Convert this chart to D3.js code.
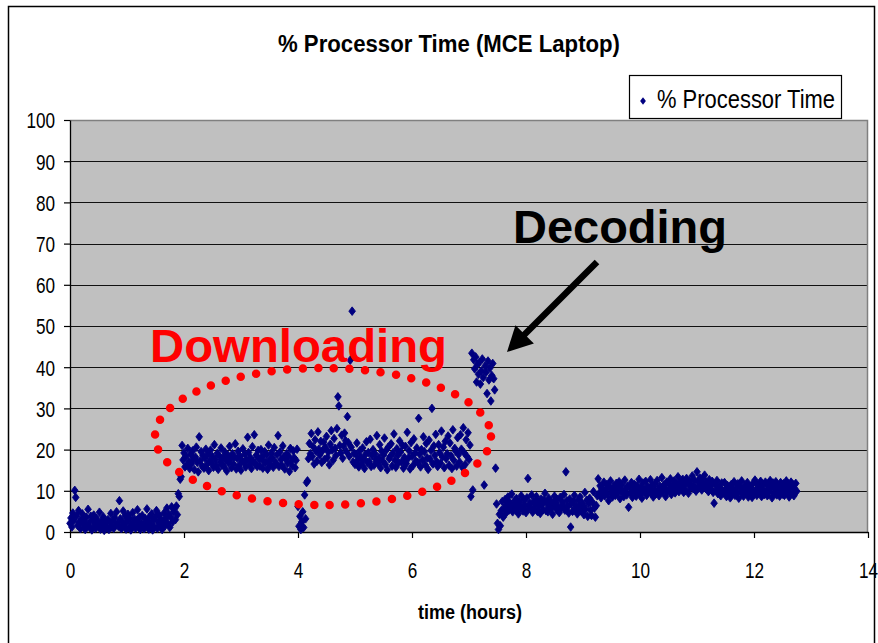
<!DOCTYPE html>
<html>
<head>
<meta charset="utf-8">
<script src="https://cdn.jsdelivr.net/npm/d3@7"></script>
<style>
  html, body { margin: 0; padding: 0; background: #fff; }
  svg { display: block; font-family: "Liberation Sans", Arial, sans-serif; }
</style>
</head>
<body>
<svg id="chart" width="878" height="643"></svg>
<script>
// Perfmon log, one sample per minute, split by activity phase (values in %)
const sampleMinutes = 1;

const idleLoad = [
  2.1, 3.4, 1.2, 4.6, 2.8, 10.1, 8.4, 3.9, 1.6, 5.2, 2.4, 0.8, 3.1, 4.4, 1.9, 2.7, 0.6, 3.6, 1.4, 5.5,
  2.2, 1.1, 3.8, 0.5, 2.9, 4.1, 1.7, 0.9, 3.3, 2.0, 1.3, 4.8, 0.7, 2.6, 1.5, 3.7, 0.4, 1.8, 2.5, 1.0,
  3.0, 0.6, 2.3, 4.5, 1.2, 2.8, 0.9, 3.5, 1.6, 4.9, 2.1, 1.4, 7.6, 3.2, 0.8, 2.4, 5.1, 1.7, 3.9, 0.7,
  2.6, 4.3, 1.1, 3.4, 0.5, 2.0, 4.7, 1.5, 3.1, 0.9, 2.7, 5.4, 1.3, 3.6, 0.6, 2.2, 4.0, 1.8, 0.8, 3.3,
  1.4, 5.6, 2.5, 0.7, 3.8, 1.9, 4.4, 0.5, 2.9, 1.2, 3.5, 5.2, 0.9, 2.3, 4.1, 1.6, 3.0, 0.6, 2.7, 4.6,
  1.5, 3.2, 5.8, 2.0, 4.3, 1.1, 3.6, 6.1, 2.4, 4.9, 5.7, 3.0, 6.3, 4.2, 9.3, 8.6, 12.8
];

const downloadFirst = [
  13.4, 21.0, 17.5, 19.2, 15.8, 18.4, 16.2, 20.3, 17.1, 15.4, 18.9, 16.6, 19.7, 17.8, 15.1, 18.2, 20.6, 16.9, 14.6, 23.1,
  17.3, 19.5, 16.0, 18.6, 15.5, 17.9, 20.1, 16.4, 18.8, 14.9, 17.2, 19.9, 16.7, 18.3, 15.7, 21.2, 17.6, 16.1, 19.1, 15.2,
  18.5, 17.0, 20.4, 16.3, 18.1, 15.9, 19.4, 17.4, 14.8, 18.7, 16.8, 20.8, 17.7, 15.6, 19.0, 16.5, 18.2, 21.4, 15.3, 17.9,
  19.6, 16.2, 18.4, 15.0, 17.3, 20.2, 16.9, 18.9, 15.8, 17.5, 23.0, 19.3, 16.4, 18.0, 15.4, 20.7, 17.1, 23.6, 16.6, 18.6,
  15.9, 19.8, 17.7, 16.0, 20.0, 18.3, 15.5, 17.2, 19.5, 16.8, 18.7, 15.2, 21.1, 17.4, 16.3, 19.2, 18.1, 15.7, 20.5, 17.0,
  16.5, 18.8, 23.4, 15.9, 19.4, 17.6, 16.2, 20.9, 18.2, 15.3, 17.8, 19.0, 16.7, 18.5, 14.7, 20.3, 17.3, 16.1, 19.7, 18.0,
  15.6, 17.4, 20.1
];

const pauseLoad = [6.2, 1.4, 3.8, 0.6, 2.5, 4.9, 1.1, 9.0, 3.2, 12.0];

const downloadSecond = [
  12.4, 17.8, 21.5, 19.0, 23.9, 18.3, 20.7, 16.5, 22.4, 19.6, 17.2, 24.3, 20.1, 18.7, 22.0, 16.9, 19.8, 21.8, 17.6, 20.5,
  23.2, 18.1, 19.4, 16.3, 21.3, 24.6, 19.9, 17.4, 22.7, 20.3, 18.6, 25.1, 32.8, 30.6, 21.0, 19.2, 23.5, 17.9, 20.8, 24.0,
  22.2, 19.5, 28.0, 21.7, 18.4, 41.7, 20.6, 53.6, 17.0, 19.1, 16.4, 18.9, 21.6, 17.5, 15.8, 19.7, 18.2, 16.6, 20.4, 17.7,
  15.4, 18.8, 21.9, 16.9, 19.3, 17.1, 22.5, 15.9, 18.5, 20.0, 16.2, 19.0, 17.6, 23.4, 16.7, 18.0, 21.2, 15.6, 19.6, 17.3,
  18.7, 22.8, 16.4, 19.9, 15.1, 20.6, 17.8, 18.3, 21.4, 16.0, 19.2, 23.8, 17.4, 15.7, 20.2, 18.6, 16.8, 22.1, 19.4, 17.0,
  21.0, 15.5, 18.1, 20.8, 16.6, 24.2, 17.9, 19.7, 15.3, 21.7, 18.4, 16.1, 22.6, 19.1, 17.2, 20.4, 16.9, 27.6, 18.9, 15.8,
  20.0, 17.5, 23.1, 19.5, 16.3, 21.5, 18.0, 15.2, 22.3, 17.7, 19.8, 30.0, 16.5, 20.9, 18.6, 23.7, 17.1, 15.9, 21.2, 19.3,
  16.7, 24.5, 18.2, 20.6, 15.6, 22.0, 17.8, 19.0, 23.3, 16.2, 21.6, 18.5, 15.4, 24.8, 17.4, 20.3, 19.6, 16.0, 22.9, 18.8,
  17.0, 23.6, 20.1, 15.7, 25.3, 19.2, 16.4, 22.4, 18.3, 24.1, 17.6, 21.1
];

const decodeLoad = [
  8.6, 43.4, 10.2, 41.8, 39.6, 42.5, 36.4, 40.7, 38.3, 41.2, 35.9, 39.1, 42.0, 37.5, 11.4, 40.3, 38.8, 33.6, 41.5, 36.9,
  39.8, 31.8, 38.0, 40.9, 37.2, 34.5, 15.5
];

const settleLoad = [6.8, 2.1, 0.6, 4.3, 1.5, 5.2, 7.4, 3.6];

const postDecodeLoad = [
  5.8, 7.9, 4.6, 6.7, 8.5, 5.3, 7.1, 6.0, 9.2, 4.9, 6.4, 7.6, 5.5, 8.1, 6.9, 4.4, 7.3, 5.9, 8.8, 6.2,
  5.1, 7.8, 6.5, 4.7, 8.3, 13.0, 5.7, 7.0, 6.1, 9.0, 4.8, 7.4, 5.6, 6.8, 8.6, 5.0, 7.2, 6.3, 4.5, 8.0,
  6.6, 5.4, 7.7, 9.4, 5.2, 6.9, 4.9, 8.2, 6.0, 7.5, 5.8, 4.3, 7.1, 8.7, 6.4, 5.5, 7.9, 6.2, 4.7, 8.4,
  5.9, 7.3, 6.6, 9.1, 5.3, 14.6, 7.6, 6.1, 4.6, 8.0, 1.2, 6.8, 5.0, 7.4, 8.9, 5.7, 6.3, 4.4, 7.8, 6.0,
  8.5, 5.1, 7.0, 6.5, 4.2, 9.6, 5.6, 7.7, 3.8, 6.9, 8.2, 5.3, 4.0, 7.2, 9.8, 5.8, 3.6, 6.4, 8.8
];

const lateLoad = [
  12.9, 9.4, 11.2, 8.3, 10.6, 9.9, 12.1, 8.8, 10.3, 11.5, 9.1, 7.6, 10.8, 12.4, 9.6, 8.5, 11.0, 10.1, 8.9, 11.8,
  9.3, 10.7, 12.2, 8.1, 10.0, 11.4, 9.7, 8.6, 12.6, 10.4, 9.0, 11.1, 6.0, 10.9, 9.5, 12.0, 8.4, 10.2, 11.6, 9.8,
  8.7, 11.3, 10.5, 12.8, 9.2, 10.8, 8.2, 11.9, 9.9, 10.3, 12.3, 8.9, 11.0, 9.6, 10.6, 12.7, 9.4, 11.5, 8.5, 10.1,
  11.7, 9.3, 12.5, 10.4, 8.8, 11.1, 10.0, 13.2, 9.7, 11.4, 10.7, 8.6, 12.1, 9.9, 11.8, 10.2, 12.9, 9.1, 11.3, 10.6,
  12.4, 9.5, 11.6, 10.9, 13.4, 9.8, 12.0, 11.2, 10.3, 12.8, 9.6, 11.5, 10.1, 13.0, 11.9, 9.4, 12.3, 10.8, 11.4, 13.6,
  10.5, 12.6, 11.0, 9.9, 14.6, 12.2, 10.7, 13.1, 11.7, 10.2, 12.9, 11.3, 13.8, 10.6, 12.1, 11.5, 9.8, 12.7, 11.1, 10.4,
  12.3, 9.6, 7.0, 11.6, 10.1, 12.5, 9.3, 11.0, 10.7, 8.8, 11.9, 10.0, 9.5, 12.0, 10.4, 8.6, 11.3, 9.9, 10.8, 8.3,
  11.5, 9.2, 10.3, 12.2, 8.9, 10.6, 9.4, 11.7, 8.2, 10.9, 9.7, 12.4, 10.1, 8.7, 11.2, 9.5, 10.5, 12.0, 8.5, 11.0,
  9.8, 10.7, 8.4, 11.8, 9.3, 12.6, 10.2, 8.9, 11.4, 9.6, 10.9, 12.3, 8.6, 10.4, 11.6, 9.1, 12.1, 10.0, 8.8, 11.2,
  9.7, 12.5, 10.6, 8.3, 11.9, 9.4, 10.8, 12.2, 9.0, 11.3, 10.1, 8.7, 12.0, 10.5, 9.2, 11.7, 8.9, 10.3, 12.4, 9.6,
  11.1, 8.5, 10.7, 12.1, 9.3, 11.5, 8.8, 10.4, 11.8, 9.9
];

const xTicks = [0, 2, 4, 6, 8, 10, 12, 14];
const yTicks = [0, 10, 20, 30, 40, 50, 60, 70, 80, 90, 100];

const chartTitle = "% Processor Time (MCE Laptop)";
const xTitle = "time (hours)";
const seriesName = "% Processor Time";

// Build the sample list: hours since logging started, CPU %
const cpuSamples = [].concat(idleLoad, downloadFirst, pauseLoad, downloadSecond,
  decodeLoad, settleLoad, postDecodeLoad, lateLoad)
  .map((v, i) => ({ hours: i * sampleMinutes / 60, value: v }));

const svg = d3.select("#chart");
const plot = { left: 70, right: 868, top: 120, bottom: 532 };

const x = d3.scaleLinear().domain([0, 14]).range([plot.left, plot.right]);
const y = d3.scaleLinear().domain([0, 100]).range([plot.bottom, plot.top]);

// Chart frame
svg.append("rect")
  .attr("x", 8.5).attr("y", 6.5).attr("width", 866).attr("height", 680)
  .attr("fill", "#fff").attr("stroke", "#000").attr("stroke-width", 1.5);

// Helper: horizontally condensed text
function label(parent, px, py, str, opt) {
  const g = parent.append("g").attr("transform", `translate(${px},${py})`);
  const t = g.append("text")
    .attr("text-anchor", opt.anchor || "middle")
    .attr("font-size", opt.size)
    .attr("font-weight", opt.weight || "normal")
    .attr("fill", opt.fill || "#000")
    .text(str);
  if (opt.width) {
    t.attr("textLength", opt.width).attr("lengthAdjust", "spacingAndGlyphs");
  }
  return t;
}

// Title
label(svg, 449, 52, chartTitle, { size: 23.5, weight: "bold", width: 342 });

// Plot background
svg.append("rect")
  .attr("x", plot.left).attr("y", plot.top)
  .attr("width", plot.right - plot.left).attr("height", plot.bottom - plot.top)
  .attr("fill", "#c0c0c0");

// Horizontal gridlines
svg.append("g").selectAll("line")
  .data(yTicks.filter(d => d > 0 && d < 100))
  .join("line")
  .attr("x1", plot.left).attr("x2", plot.right)
  .attr("y1", d => Math.round(y(d)) + 0.5).attr("y2", d => Math.round(y(d)) + 0.5)
  .attr("stroke", "#111").attr("stroke-width", 1.2);

// Plot border (top and right in grey)
svg.append("path")
  .attr("d", `M${plot.left},${y(100) + 0.5}H${plot.right - 0.5}V${plot.bottom}`)
  .attr("fill", "none").attr("stroke", "#808080").attr("stroke-width", 1.5);

// Axes
const yAxis = svg.append("g")
  .attr("transform", `translate(${plot.left},0)`)
  .call(d3.axisLeft(y).tickValues(yTicks).tickSize(6).tickSizeOuter(0));
const xAxis = svg.append("g")
  .attr("transform", `translate(0,${plot.bottom})`)
  .call(d3.axisBottom(x).tickValues(xTicks).tickSize(6).tickSizeOuter(0));

[yAxis, xAxis].forEach(ax => {
  ax.select(".domain").attr("stroke", "#000").attr("stroke-width", 1.3);
  ax.selectAll(".tick line").attr("stroke", "#000").attr("stroke-width", 1.2);
  ax.selectAll(".tick text")
    .attr("font-family", "'Liberation Sans', Arial, sans-serif")
    .attr("font-size", 22).attr("fill", "#000");
});
const tickSqueeze = 0.78;
yAxis.selectAll(".tick text")
  .attr("x", -15 / tickSqueeze).attr("dy", "0.36em")
  .attr("transform", `scale(${tickSqueeze},1)`);
xAxis.selectAll(".tick text")
  .attr("y", 46).attr("dy", null)
  .attr("transform", `scale(${tickSqueeze},1)`);

// Axis title
label(svg, 470, 619, xTitle, { size: 20, weight: "bold", width: 104 });

// Markers (filled diamonds with a same-colour outline)
const diamond = "M0,-4.3L3.3,0L0,4.3L-3.3,0Z";
svg.append("g").selectAll("path")
  .data(cpuSamples)
  .join("path")
  .attr("d", diamond)
  .attr("transform", d => `translate(${x(d.hours)},${y(d.value)})`)
  .attr("fill", "#000080")
  .attr("stroke", "#000080").attr("stroke-width", 0.9)
  .attr("stroke-linejoin", "round");

// Annotations
svg.append("ellipse")
  .attr("cx", 323).attr("cy", 436.5).attr("rx", 168).attr("ry", 68.5)
  .attr("fill", "none").attr("stroke", "#ff0000").attr("stroke-width", 8.5)
  .attr("stroke-linecap", "round").attr("stroke-dasharray", "0 15.6");

label(svg, 150, 362, "Downloading", { size: 47, weight: "bold", fill: "#ff0000", anchor: "start", width: 297 });
label(svg, 513, 243, "Decoding", { size: 46, weight: "bold", anchor: "start", width: 214 });

// Arrow pointing at the decode burst
const tail = [597, 262], tip = [507, 352];
const len = Math.hypot(tip[0] - tail[0], tip[1] - tail[1]);
const ux = (tip[0] - tail[0]) / len, uy = (tip[1] - tail[1]) / len;
const headLen = 25, headHalf = 13;
const base = [tip[0] - ux * headLen, tip[1] - uy * headLen];
svg.append("line")
  .attr("x1", tail[0]).attr("y1", tail[1])
  .attr("x2", base[0] + ux * 3).attr("y2", base[1] + uy * 3)
  .attr("stroke", "#000").attr("stroke-width", 6.5);
svg.append("path")
  .attr("d", `M${tip[0]},${tip[1]}L${base[0] - uy * headHalf},${base[1] + ux * headHalf}L${base[0] + uy * headHalf},${base[1] - ux * headHalf}Z`)
  .attr("fill", "#000");

// Legend
const legend = svg.append("g");
legend.append("rect")
  .attr("x", 629.5).attr("y", 75.5).attr("width", 212).attr("height", 43)
  .attr("fill", "#fff").attr("stroke", "#000").attr("stroke-width", 1.2);
legend.append("path").attr("d", "M0,-3.8L2.9,0L0,3.8L-2.9,0Z")
  .attr("transform", "translate(643,101)").attr("fill", "#000080");
label(legend, 657, 108, seriesName, { size: 26, anchor: "start", width: 178 });
</script>
</body>
</html>
